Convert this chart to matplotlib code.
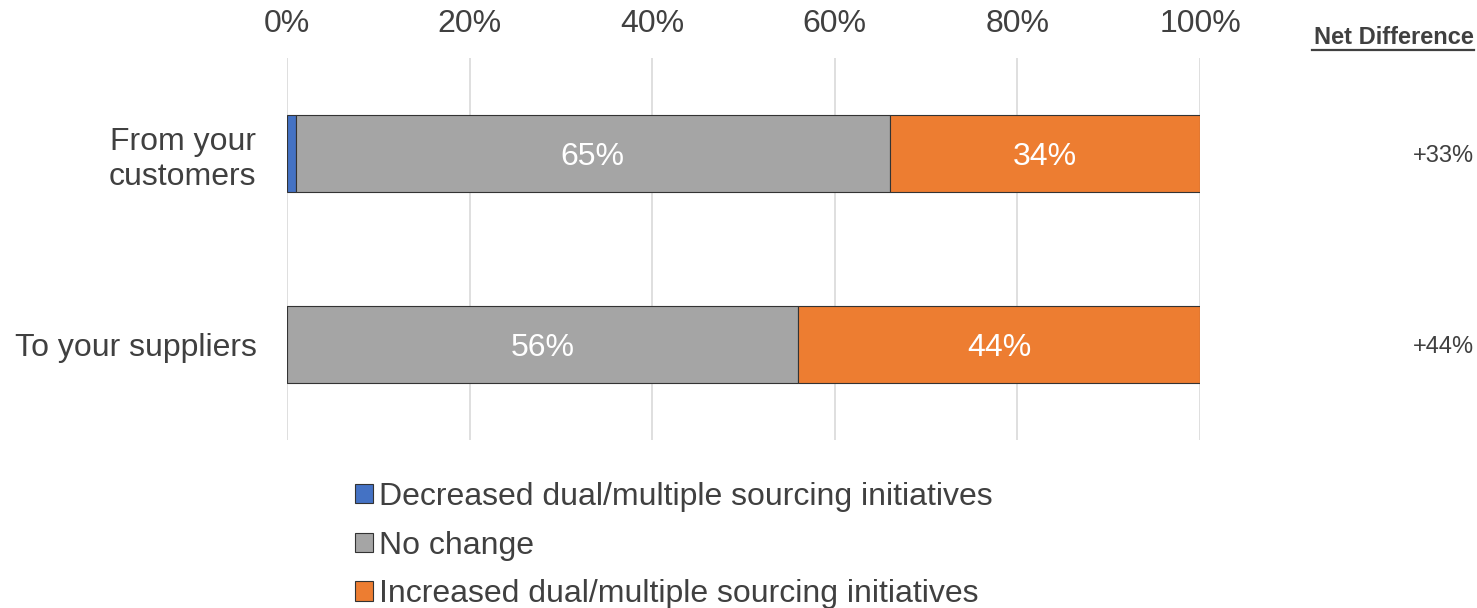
import matplotlib
matplotlib.use("Agg")
import matplotlib.pyplot as plt
from matplotlib.patches import Patch

plt.rcParams['font.family'] = ['Liberation Sans', 'DejaVu Sans']

categories = ["From your\ncustomers", "To your suppliers"]
series_names = ["Decreased dual/multiple sourcing initiatives",
                "No change",
                "Increased dual/multiple sourcing initiatives"]
decreased = [1, 0]
no_change = [65, 56]
increased = [34, 44]
net_difference = ["+33%", "+44%"]
xticks = [0, 20, 40, 60, 80, 100]
xtick_labels = ["0%", "20%", "40%", "60%", "80%", "100%"]

colors = ["#4472C4", "#A5A5A5", "#ED7D31"]
text_color = "#404040"

fig = plt.figure(figsize=(14.77, 6.08), dpi=100)
ax = fig.add_axes([0.1943, 0.2763, 0.6182, 0.6283])

ypos = list(range(len(categories)))
left = [0] * len(categories)
for vals, col in zip([decreased, no_change, increased], colors):
    bars = ax.barh(ypos, vals, left=left, height=0.4, color=col,
                   edgecolor="#333333", linewidth=0.8, zorder=3)
    for b, v, l in zip(bars, vals, left):
        if v >= 5:
            ax.text(l + v / 2, b.get_y() + b.get_height() / 2, f"{v}%",
                    ha="center", va="center_baseline", color="white",
                    fontsize=23, zorder=4)
    left = [a + b for a, b in zip(left, vals)]

ax.set_xlim(0, 100)
ax.set_ylim(1.5, -0.5)
ax.set_xticks(xticks)
ax.set_xticklabels(xtick_labels)
ax.xaxis.tick_top()
ax.tick_params(axis="x", length=0, pad=14, labelsize=23, labelcolor=text_color)
ax.set_yticks(ypos)
ax.set_yticklabels(categories)
ax.tick_params(axis="y", length=0, pad=22, labelsize=23, labelcolor=text_color)
for lab in ax.get_yticklabels():
    lab.set_horizontalalignment("right")
    lab.set_multialignment("right")
    lab.set_linespacing(1.2)
ax.grid(axis="x", color="#D9D9D9", linewidth=1.2, zorder=0)
for s in ax.spines.values():
    s.set_visible(False)

# Net difference column
fig.text(0.998, 0.938, "Net Difference", ha="right", va="center",
         fontsize=17, fontweight="bold", color=text_color)
fig.add_artist(plt.Line2D([0.888, 0.998], [0.917, 0.917], color=text_color,
                          linewidth=1.6, transform=fig.transFigure))
for y, t in zip(ypos, net_difference):
    ax.annotate(t, xy=(1, y), xycoords=("figure fraction", "data"),
                xytext=(-2, -2), textcoords="offset points",
                ha="right", va="center", fontsize=17, color=text_color,
                annotation_clip=False)

handles = [Patch(facecolor=c, edgecolor="#333333", linewidth=0.8) for c in colors]
leg = fig.legend(handles, series_names, loc="upper left",
                 bbox_to_anchor=(0.232, 0.228), frameon=False,
                 fontsize=23, handlelength=0.55, handleheight=0.55,
                 handletextpad=0.2, labelspacing=0.58, borderaxespad=0)
for t in leg.get_texts():
    t.set_color(text_color)

fig.savefig("out.png", dpi=100)
